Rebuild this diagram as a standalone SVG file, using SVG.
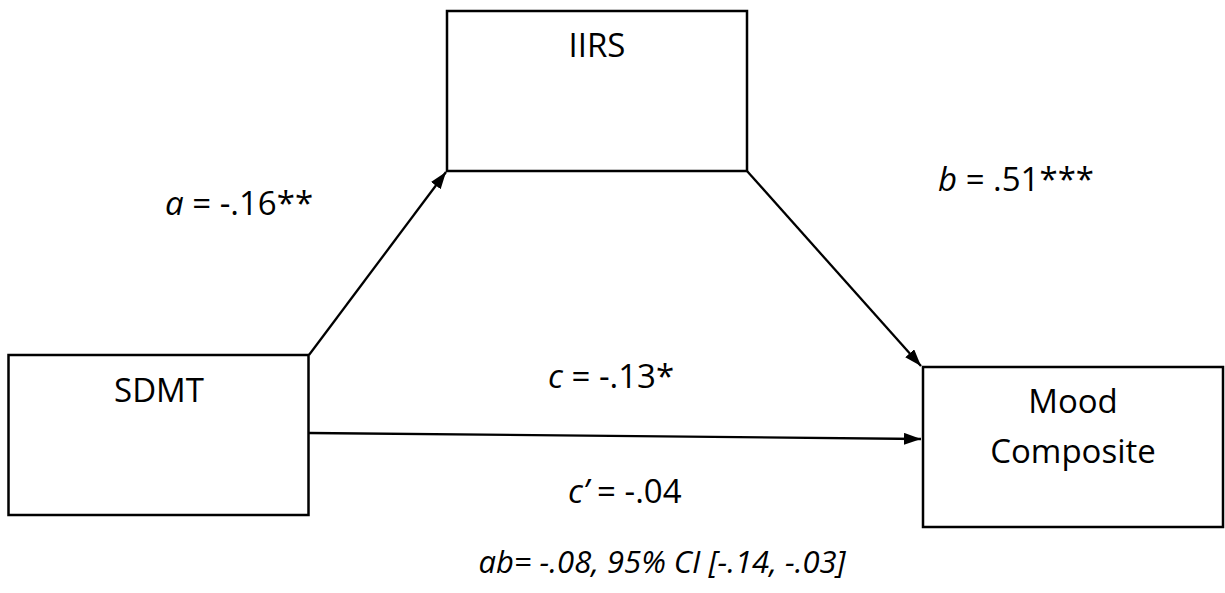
<svg xmlns="http://www.w3.org/2000/svg" width="1225" height="593" viewBox="0 0 1225 593">
<style>
.box{fill:#fff;stroke:#000;stroke-width:2.5}
.t{font-family:"Open Sans","Liberation Sans",sans-serif;font-size:33px;fill:#000}
.it{font-style:italic}
.ab{font-size:31px}
.ln{stroke:#000;stroke-width:2.3;fill:none}
</style>
<defs>
<marker id="ah" viewBox="0 0 17 12" refX="17" refY="6" markerWidth="17" markerHeight="12" markerUnits="userSpaceOnUse" orient="auto">
<path d="M0,0 L17,6 L0,12 z" fill="#000"/>
</marker>
</defs>
<rect width="1225" height="593" fill="#fff"/>
<g id="connectors">
<line class="ln" x1="309" y1="355" x2="446" y2="172" marker-end="url(#ah)"/>
<line class="ln" x1="747" y1="171" x2="921" y2="366" marker-end="url(#ah)"/>
<line class="ln" x1="309" y1="433" x2="921" y2="439" marker-end="url(#ah)"/>
</g>
<g id="iirs">
<rect class="box" x="447" y="11" width="300" height="160"/>
<text class="t" x="597" y="57" text-anchor="middle">IIRS</text>
</g>
<g id="sdmt">
<rect class="box" x="8.5" y="355" width="300" height="160"/>
<text class="t" x="159" y="402" text-anchor="middle">SDMT</text>
</g>
<g id="mood">
<rect class="box" x="923" y="367" width="300" height="160"/>
<text class="t" x="1073" y="413" text-anchor="middle">Mood</text>
<text class="t" x="1073" y="463" text-anchor="middle">Composite</text>
</g>
<g id="labels">
<text class="t" x="165" y="215"><tspan class="it">a</tspan> = -.16**</text>
<text class="t" x="938" y="191"><tspan class="it">b</tspan> = .51***</text>
<text class="t" x="548" y="388"><tspan class="it">c</tspan> = -.13*</text>
<text class="t" x="568" y="503"><tspan class="it">c’</tspan> = -.04</text>
<text class="t it ab" x="662" y="573" text-anchor="middle">ab= -.08, 95% CI [-.14, -.03]</text>
</g>
</svg>
